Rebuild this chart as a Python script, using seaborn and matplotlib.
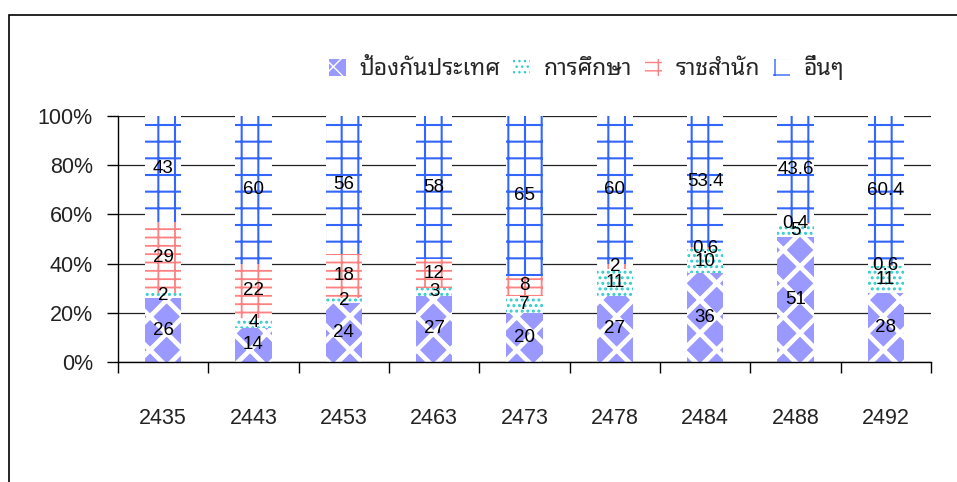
import matplotlib
matplotlib.use("Agg")
import matplotlib.pyplot as plt
import matplotlib.patches as mpatches
from matplotlib.ticker import PercentFormatter, FixedLocator
import numpy as np
import seaborn as sns

years = ["2435", "2443", "2453", "2463", "2473", "2478", "2484", "2488", "2492"]
defense = [26, 14, 24, 27, 20, 27, 36, 51, 28]
education = [2, 4, 2, 3, 7, 11, 10, 5, 11]
royal = [29, 22, 18, 12, 8, 2, 0.6, 0.4, 0.6]
other = [43, 60, 56, 58, 65, 60, 53.4, 43.6, 60.4]
series_names = ["ป้องกันประเทศ", "การศึกษา", "ราชสำนัก", "อื่นๆ"]

# face, hatch colour, hatch, hatch linewidth
styles = [
    ("#9999FF", "white", "x", 3.4),
    ("white", "#33CCCC", "...", 1.4),
    ("white", "#FF8080", "--|", 1.3),
    ("white", "#3366FF", "+", 1.5),
]

sns.set_style("white")
plt.rcParams["font.family"] = ["Liberation Sans", "Noto Sans Thai Looped", "DejaVu Sans"]

vals = [defense, education, royal, other]
stack = np.cumsum(np.array(vals), axis=0)

fig = plt.figure(figsize=(9.57, 4.82), dpi=100)
ax = fig.add_axes([0.1233, 0.249, 0.8495, 0.5103])

# cumulative totals drawn from the top series down, each layer covering the rest
for k in range(3, -1, -1):
    face, hc, hatch, hlw = styles[k]
    with plt.rc_context({"hatch.linewidth": hlw}):
        sns.barplot(x=years, y=stack[k], ax=ax, color=face, saturation=1,
                    width=0.4, errorbar=None, edgecolor=hc, linewidth=0,
                    hatch=hatch)
        for p in ax.patches[-len(years):]:
            if hasattr(p, "set_hatch_linewidth"):
                p.set_hatch_linewidth(hlw)
            p.set_zorder(2 + (3 - k) * 0.1)

# value labels in the middle of each segment
for k in range(4):
    for i in range(len(years)):
        bottom = stack[k - 1][i] if k > 0 else 0
        ax.text(i, bottom + vals[k][i] / 2, "{:g}".format(vals[k][i]),
                ha="center", va="center", fontsize=13.5, color="black", zorder=5)

ax.set_xlim(-0.5, len(years) - 0.5)
ax.set_ylim(0, 100)
ax.yaxis.set_major_locator(FixedLocator([0, 20, 40, 60, 80, 100]))
ax.yaxis.set_major_formatter(PercentFormatter(decimals=0))
ax.grid(axis="y", color="#222222", linewidth=0.9)
ax.set_axisbelow(True)
ax.set_xlabel("")
ax.set_ylabel("")

ax.set_xticks(np.arange(-0.5, len(years)), minor=True)
ax.tick_params(axis="x", which="major", length=0, pad=33, labelsize=15.5, labelcolor="#222222")
ax.tick_params(axis="x", which="minor", length=8, width=1, direction="out", color="black")
ax.tick_params(axis="y", which="major", length=8, width=1, direction="out", color="black",
               pad=10, labelsize=15.5, labelcolor="#222222")
ax.tick_params(bottom=True, left=True, which="both")
ax.tick_params(axis="x", which="major", bottom=False)

sns.despine(ax=ax, top=True, right=True)
for s in ["left", "bottom"]:
    ax.spines[s].set_color("black")
    ax.spines[s].set_linewidth(1)

# legend
handles = []
for k in range(4):
    face, hc, hatch, hlw = styles[k]
    handles.append(mpatches.Patch(facecolor=face, edgecolor=hc, linewidth=0, hatch=hatch,
                                  label=series_names[k]))
fig.legend(handles=handles, loc="center", bbox_to_anchor=(0.613, 0.859), ncol=4,
           frameon=False, fontsize=16.5, handlelength=0.75, handleheight=0.75,
           handletextpad=0.6, columnspacing=0.55)

# outer frame (runs off the right and bottom edges like the source)
fig.add_artist(mpatches.Rectangle((0.0089, -0.2), 1.3, 0.969 + 0.2, transform=fig.transFigure,
                                  facecolor="none", edgecolor="black", linewidth=1.2,
                                  clip_on=False))

fig.savefig("out.png", dpi=100)
